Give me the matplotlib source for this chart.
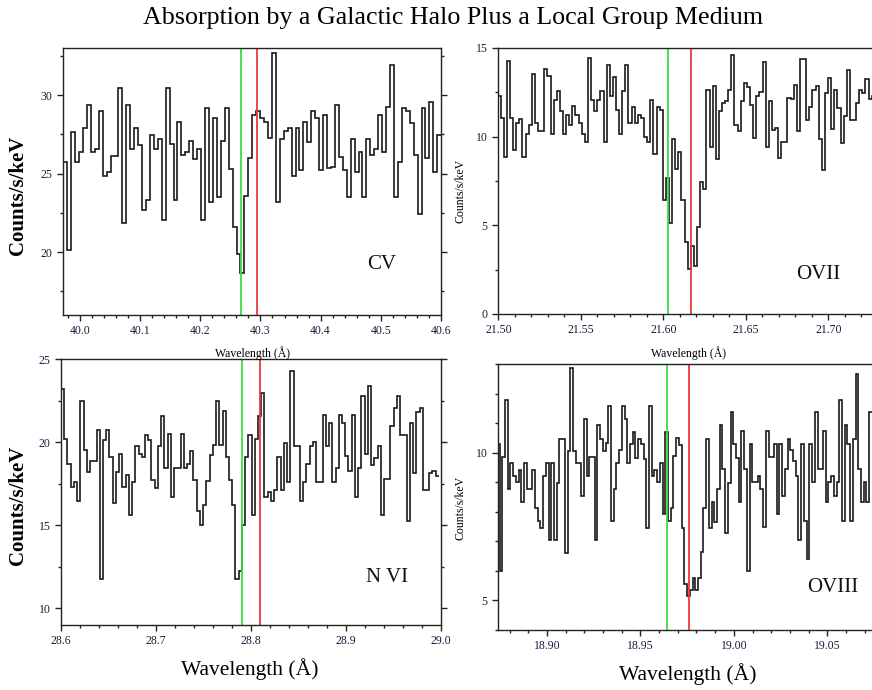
import numpy as np
import matplotlib
matplotlib.use("Agg")
import matplotlib.pyplot as plt
from matplotlib.ticker import MultipleLocator

plt.rcParams['font.family'] = ['Liberation Serif', 'DejaVu Serif']

# ---------------- data ----------------
title = "Absorption by a Galactic Halo Plus a Local Group Medium"
panel_names = ["CV", "OVII", "N VI", "OVIII"]

cv_start, cv_width = 39.9725, 0.00654
cv_counts = [25.73, 20.15, 27.65, 25.73, 26.37, 27.9, 29.36, 26.37, 26.58, 28.97,
             24.87, 25.13, 26.11, 26.11, 30.47, 21.86, 29.36, 26.58, 27.9, 26.84,
             22.71, 23.35, 27.44, 26.58, 27.22, 22.07, 30.47, 26.88, 23.31, 28.27,
             26.2, 26.37, 27.05, 25.94, 26.58, 22.07, 29.15, 23.2, 28.55, 23.53,
             27.05, 29.15, 25.28, 21.6, 19.9, 18.65, 23.57, 25.98,
             28.76, 29.0, 28.55, 28.29, 27.26, 32.65, 23.2, 27.22, 27.69, 27.9,
             24.87, 27.9, 25.24, 28.29, 27.01, 28.97, 28.55, 25.24, 28.76, 25.34,
             25.45, 29.36, 26.09, 25.24, 23.53, 27.2, 25.09, 26.37, 23.53, 27.2,
             26.2, 26.58, 28.76, 26.35, 29.23, 31.92, 23.53, 25.73, 29.15, 28.97,
             28.23, 26.2, 22.46, 29.15, 25.98, 29.57, 25.09, 27.48]

ovii_start, ovii_width = 21.4995, 0.00189
ovii_counts = [12.27, 11.04, 8.83, 14.26, 11.04, 9.24, 10.76, 11.02, 8.83, 10.15,
               10.66, 13.56, 10.76, 10.34, 10.34, 13.79, 13.4, 10.15, 12.05, 12.56,
               11.42, 10.15, 11.23, 10.66, 11.74, 11.23, 10.76, 10.15, 9.72, 14.45,
               12.05, 11.42, 12.05, 12.56, 9.72, 14.02, 12.31, 13.37, 11.52, 10.15,
               12.56, 14.02, 10.76, 11.7, 10.76, 11.23, 11.04, 9.96, 9.72, 12.05,
               9.05, 11.67, 11.52, 6.43, 7.66, 5.11, 9.86, 8.16, 9.16, 6.43,
               4.08, 2.51, 3.85, 2.72, 4.92, 7.47, 7.05, 12.65, 9.44, 12.87,
               8.75, 11.42, 11.89, 11.99, 12.65, 14.59, 10.67, 10.3, 12.0, 13.0,
               12.8, 11.8, 9.9, 12.3, 12.5, 14.2, 9.4, 12.0, 10.4, 10.5,
               8.8, 9.7, 9.7, 12.2, 12.1, 12.9, 10.3, 14.38, 14.38, 10.95,
               11.7, 12.65, 12.87, 9.86, 8.13, 12.46, 13.3, 10.43, 12.65, 11.6,
               9.63, 11.14, 13.74, 10.95, 10.95, 11.9, 12.65, 12.46, 13.25, 12.1, 12.3]

nvi_start, nvi_width = 28.5966, 0.0034
nvi_counts = [22.1, 23.19, 20.18, 18.68, 17.29, 17.58, 16.47, 22.5, 19.5, 18.2,
              18.88, 18.88, 20.74, 11.78, 20.14, 20.74, 19.08, 16.33, 18.2, 19.28,
              17.33, 18.0, 15.63, 17.58, 19.74, 19.3, 19.08, 20.4, 20.14, 17.74,
              17.27, 19.74, 21.6, 18.44, 20.5, 16.67, 18.44, 18.44, 20.5, 18.44,
              18.68, 19.48, 17.74, 15.87, 15.03, 16.23, 17.64, 19.24, 19.8, 22.5,
              19.8, 21.88, 19.08, 17.74, 16.23, 11.78, 12.22, 15.03, 19.08, 20.4,
              15.63, 20.18, 21.6, 22.95, 16.67, 16.99, 16.47, 17.13, 19.08, 17.13,
              19.94, 17.58, 24.29, 19.74, 19.74, 16.47, 17.58, 18.68, 19.74, 19.98,
              17.58, 17.58, 21.64, 19.74, 21.18, 17.58, 18.44, 21.64, 21.18, 19.14,
              18.24, 21.64, 16.67, 18.44, 22.75, 19.3, 23.39, 18.64, 19.04, 19.74,
              15.63, 17.78, 17.78, 20.98, 22.08, 22.75, 20.44, 20.44, 15.23, 21.18,
              18.14, 21.8, 22.08, 17.13, 17.13, 18.14, 18.24, 17.94]

oviii_start, oviii_width = 18.8732, 0.001454
oviii_counts = [10.28, 5.99, 9.85, 11.79, 8.78, 9.64, 9.21, 9.0, 9.41, 8.33,
                9.64, 8.78, 8.78, 9.41, 8.14, 7.68, 7.46, 9.21, 9.64, 7.06,
                9.64, 7.06, 8.98, 10.47, 10.47, 6.6, 10.06, 12.85, 10.06, 9.64,
                9.64, 8.55, 11.13, 9.21, 9.86, 9.86, 7.06, 10.93, 10.47, 10.06,
                10.34, 11.58, 7.68, 8.78, 9.64, 10.09, 11.58, 11.13, 9.64, 10.28,
                10.7, 9.83, 10.45, 10.28, 9.77, 7.46, 11.58, 9.21, 9.41, 9.0,
                9.64, 7.91, 10.7, 7.68, 8.14, 9.89, 10.51, 10.25, 7.46, 5.57,
                5.15, 5.35, 5.76, 5.37, 5.76, 6.63, 8.14, 10.47, 7.46, 8.33,
                7.66, 8.78, 10.93, 9.44, 7.27, 8.98, 11.36, 10.28, 9.83, 8.33,
                10.73, 9.44, 5.99, 10.28, 9.0, 9.0, 9.21, 8.78, 7.49, 10.73,
                9.86, 9.86, 10.28, 7.91, 10.28, 8.55, 9.44, 10.47, 10.09, 9.72,
                9.21, 7.06, 10.28, 7.68, 6.41, 10.28, 9.0, 11.36, 9.44, 9.44,
                10.73, 8.33, 9.0, 9.21, 8.55, 9.0, 11.79, 7.68, 10.93, 10.28,
                7.68, 10.47, 12.66, 9.44, 8.33, 9.0, 8.33, 11.36]

green_lines = [40.268, 21.6028, 28.790, 18.964]
red_lines = [40.294, 21.6166, 28.809, 18.976]

xlims = [(39.972, 40.600), (21.4998, 21.7277), (28.6, 29.0), (18.8738, 19.075)]
ylims = [(16, 33), (0, 15), (9, 25), (4, 13)]
x_major = [0.1, 0.05, 0.1, 0.05]
x_minor = [0.02, 0.01, 0.02, 0.01]
y_major = [5, 5, 5, 5]
y_minor = [2.5, 2.5, 2.5, 1]
xfmt = ["%.1f", "%.2f", "%.1f", "%.2f"]

# ---------------- layout ----------------
W, H = 872, 690
fig = plt.figure(figsize=(W / 100, H / 100), dpi=100)

def rect(l, t, r, b):
    return [l / W, 1 - b / H, (r - l) / W, (b - t) / H]

boxes = [rect(63, 48, 441, 315), rect(498, 48, 874, 314),
         rect(61, 359, 441, 625), rect(498, 364, 874, 630)]

series = [(cv_start, cv_width, cv_counts), (ovii_start, ovii_width, ovii_counts),
          (nvi_start, nvi_width, nvi_counts), (oviii_start, oviii_width, oviii_counts)]

label_pos = [(382, 265), (818, 274), (387, 577), (833, 588)]
tick_color = '#1b1b3a'

for i in range(4):
    ax = fig.add_axes(boxes[i])
    start, width, vals = series[i]
    edges = start + width * np.arange(len(vals) + 1)
    ax.stairs(vals, edges, baseline=None, color='#1a1a1a', linewidth=1.2)
    ax.axvline(green_lines[i], color='#3ddc3d', linewidth=1.3)
    ax.axvline(red_lines[i], color='#e8393a', linewidth=1.3)
    ax.set_xlim(*xlims[i])
    ax.set_ylim(*ylims[i])
    ax.xaxis.set_major_locator(MultipleLocator(x_major[i]))
    ax.xaxis.set_minor_locator(MultipleLocator(x_minor[i]))
    ax.yaxis.set_major_locator(MultipleLocator(y_major[i]))
    ax.yaxis.set_minor_locator(MultipleLocator(y_minor[i]))
    ax.xaxis.set_major_formatter(matplotlib.ticker.FormatStrFormatter(xfmt[i]))
    ax.yaxis.set_major_formatter(matplotlib.ticker.FormatStrFormatter("%d"))
    ax.tick_params(which='both', direction='out', labelsize=8.5, colors='#222222',
                   labelcolor=tick_color, right=True, top=False)
    ax.tick_params(which='major', length=4, width=1)
    ax.tick_params(which='minor', length=2.5, width=1)
    for s in ax.spines.values():
        s.set_linewidth(1.0)
        s.set_color('#222222')
    fig.text(label_pos[i][0] / W, 1 - label_pos[i][1] / H, panel_names[i],
             fontsize=15, ha='center', va='center', color='#111111')

# axis labels
fig.text(453 / W, 1 - 18 / H, title, fontsize=18.7, ha='center', va='center')
fig.text(18 / W, 1 - 195 / H, "Counts/s/keV", fontsize=15, fontweight='bold',
         rotation=90, ha='center', va='center')
fig.text(18 / W, 1 - 505 / H, "Counts/s/keV", fontsize=15, fontweight='bold',
         rotation=90, ha='center', va='center')
fig.text(460 / W, 1 - 191 / H, "Counts/s/keV", fontsize=8.5,
         rotation=90, ha='center', va='center')
fig.text(460 / W, 1 - 508 / H, "Counts/s/keV", fontsize=8.5,
         rotation=90, ha='center', va='center')
fig.text(252 / W, 1 - 353 / H, "Wavelength (Å)", fontsize=8.5, ha='center', va='center')
fig.text(688 / W, 1 - 353 / H, "Wavelength (Å)", fontsize=8.5, ha='center', va='center')
fig.text(250 / W, 1 - 669 / H, "Wavelength (Å)", fontsize=15.5, ha='center', va='center')
fig.text(688 / W, 1 - 674 / H, "Wavelength (Å)", fontsize=15.5, ha='center', va='center')

fig.savefig("out.png", dpi=100)
